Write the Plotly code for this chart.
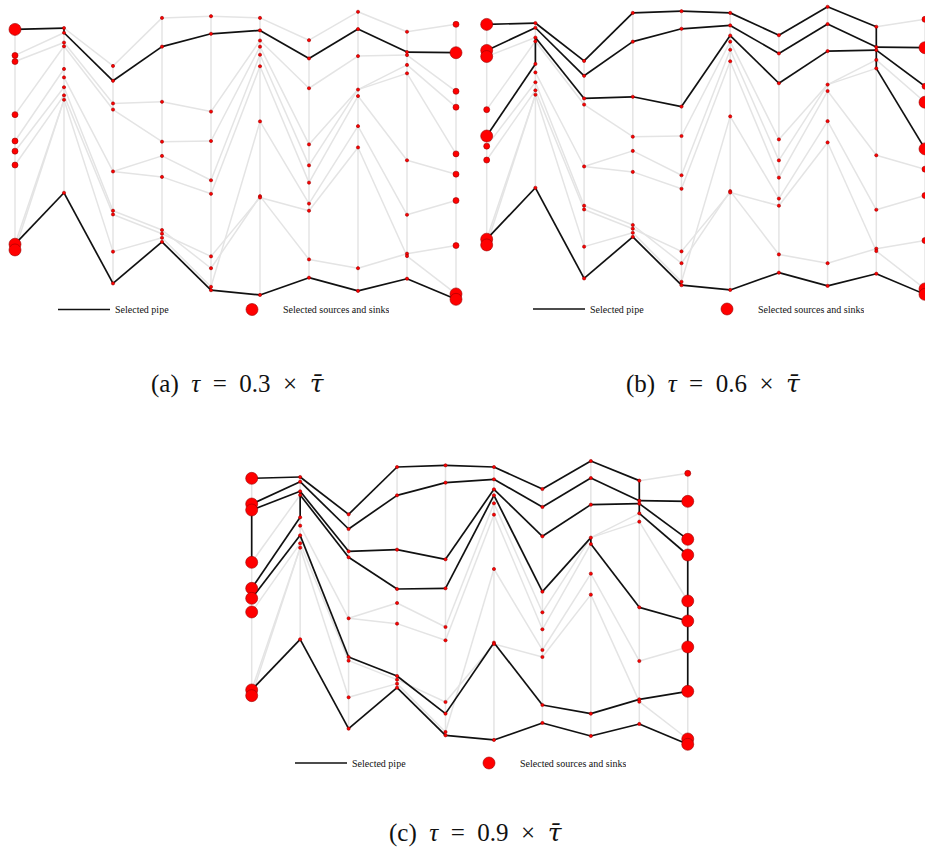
import plotly.graph_objects as go

# ---------------- data: node vertical positions per column (0 = top) ----------------
col0 = [70, 147, 165, 322, 400, 430, 471, 705, 722]
col1 = [66, 80, 109, 120, 187, 212, 241, 265, 278, 553]
col2 = [178, 222, 289, 307, 490, 606, 617, 727, 821]
col3 = [36, 121, 284, 402, 444, 506, 663, 674, 686, 698]
col4 = [31, 83, 313, 400, 516, 556, 741, 776, 831, 841]
col5 = [36, 73, 103, 121, 145, 179, 342, 563, 567, 855]
col6 = [102, 156, 244, 410, 472, 523, 585, 606, 750, 804]
col7 = [18, 69, 149, 248, 267, 356, 419, 776, 843]
col8 = [77, 137, 146, 175, 200, 457, 618, 733, 740, 807]
col9 = [55, 139, 253, 300, 438, 498, 576, 709, 852, 868]

# pipes between neighbouring columns
pipes = ("A0-B0 A1-B1 A2-B2 A3-B3 A4-B4 A5-B6 A6-B7 A7-B9 A7-B8 A8-B8 "
         "B0-C0 B1-C1 B2-C2 B3-C3 B5-C4 B6-C5 B7-C6 B8-C7 B9-C8 "
         "C0-D0 C1-D1 C2-D2 C3-D3 C4-D4 C4-D5 C5-D6 C6-D7 C7-D8 C8-D9 "
         "D0-E0 D1-E1 D2-E2 D3-E3 D4-E4 D5-E5 D6-E7 D7-E6 D8-E8 D9-E9 "
         "E0-F0 E1-F1 E2-F2 E3-F3 E4-F4 E5-F5 E6-F8 E7-F7 E8-F6 E9-F9 "
         "F0-G0 F1-G1 F2-G2 F3-G3 F4-G4 F5-G5 F6-G6 F7-G8 F8-G7 F9-G9 "
         "G0-H0 G1-H1 G2-H2 G3-H3 G4-H3 G5-H4 G6-H5 G7-H6 G8-H7 G9-H8 "
         "H0-I0 H1-I1 H2-I2 H3-I3 H3-I4 H4-I5 H5-I6 H6-I8 H7-I7 H8-I9 "
         "I0-J0 I1-J1 I2-J2 I3-J3 I4-J4 I5-J5 I6-J6 I7-J7 I8-J8 I9-J9").split()

# selected pipes for each tau
sel_a = ("A0-B0 B0-B1 B1-C1 C1-D1 D1-E1 E1-F1 F1-G1 G1-H1 H1-I1 I1-J1 "
         "A7-B9 B9-C8 C8-D9 D9-E9 E9-F9 F9-G9 G9-H8 H8-I9 I9-J9").split()
sel_b = ("A0-B0 B0-C0 C0-D0 D0-E0 E0-F0 F0-G0 G0-H0 H0-I0 I0-I1 I1-J1 "
         "A1-B1 B1-C1 C1-D1 D1-E1 E1-F1 F1-G1 G1-H1 H1-I1 "
         "A4-B4 B3-B4 B2-B3 B2-C2 C2-D2 D2-E2 E2-F2 F2-G2 G2-H2 H2-I2 "
         "I1-I2 I2-I3 I3-I4 I2-J2 I4-J4 "
         "A7-B9 B9-C8 C8-D9 D9-E9 E9-F9 F9-G9 G9-H8 H8-I9 I9-J9").split()
sel_c = ("A0-B0 B0-C0 C0-D0 D0-E0 E0-F0 F0-G0 G0-H0 H0-I0 I0-I1 I1-J1 "
         "A1-B1 B1-C1 C1-D1 D1-E1 E1-F1 F1-G1 G1-H1 H1-I1 "
         "I1-I2 I2-J2 I2-I3 I3-J3 "
         "A2-B2 B2-C2 C2-D2 D2-E2 E2-F2 F2-G2 G2-H2 H2-I2 "
         "B2-B3 B3-C3 C3-D3 D3-E3 E3-F3 F3-G3 G3-H3 H3-H4 H4-I5 I5-J5 "
         "B3-B4 A4-B4 A2-A3 "
         "A5-B6 B6-C5 C5-D6 D6-E7 E7-F7 F7-G8 G8-H7 H7-I7 I7-J7 "
         "J3-J4 J4-J5 J5-J6 J6-J7 "
         "A7-B9 B9-C8 C8-D9 D9-E9 E9-F9 F9-G9 G9-H8 H8-I9 I9-J9").split()

# selected sources and sinks
src_a = "A0 A7 A8 J1 J8 J9".split()
src_b = "A0 A1 A2 A4 A7 A8 J1 J3 J4 J8 J9".split()
src_c = "A0 A1 A2 A3 A4 A5 A6 A7 A8 J1 J2 J3 J4 J5 J6 J7 J8 J9".split()

TAU_BAR = "<span style='font-family:DejaVu Serif'><i>τ̄</i></span>"
captions = ["(a)  <i>τ</i>  =  0.3  ×  " + TAU_BAR,
            "(b)  <i>τ</i>  =  0.6  ×  " + TAU_BAR,
            "(c)  <i>τ</i>  =  0.9  ×  " + TAU_BAR]

# ---------------- helpers ----------------
cols = [col0, col1, col2, col3, col4, col5, col6, col7, col8, col9]
letters = "ABCDEFGHIJ"


def pos(nid):
    c = letters.index(nid[0])
    return c, cols[c][int(nid[1:])]


vertical = [f"{letters[c]}{i}-{letters[c]}{i+1}"
            for c in range(len(cols)) for i in range(len(cols[c]) - 1)]
all_pipes = pipes + vertical


def seg_xy(edges):
    xs, ys = [], []
    for e in edges:
        a, b = e.split("-")
        xa, ya = pos(a)
        xb, yb = pos(b)
        xs += [xa, xb, None]
        ys += [ya, yb, None]
    return xs, ys


W, H = 925, 850
panels = [
    dict(sel=sel_a, src=src_a, x0=15.0, dx=49.0, y0=5.7, ky=0.3383, xr=[-0.3, 9.4],
         leg_x=53, leg_y=309.5, cap_x=238, cap_y=383),
    dict(sel=sel_b, src=src_b, x0=486.7, dx=48.7, y0=0.7, ky=0.3383, xr=[-0.4, 9.0],
         leg_x=528, leg_y=309, cap_x=713, cap_y=383),
    dict(sel=sel_c, src=src_c, x0=251.7, dx=48.45, y0=455.0, ky=0.3333, xr=[-0.4, 9.4],
         leg_x=290, leg_y=763, cap_x=476, cap_y=832),
]

RED = "#ff0000"
DARK = "#9a0000"

fig = go.Figure()
layout = dict(width=W, height=H, margin=dict(l=0, r=0, t=0, b=0),
              plot_bgcolor="white", paper_bgcolor="white", annotations=[])

for k, p in enumerate(panels):
    sfx = "" if k == 0 else str(k + 1)
    xa, ya = "x" + sfx, "y" + sfx
    leg = "legend" + sfx
    sel_set = set(p["sel"])
    gray = [e for e in all_pipes if e not in sel_set]
    gx, gy = seg_xy(gray)
    fig.add_trace(go.Scatter(x=gx, y=gy, mode="lines", xaxis=xa, yaxis=ya,
                             line=dict(color="#e4e4e4", width=1.5),
                             hoverinfo="skip", showlegend=False, cliponaxis=False))
    bx, by = seg_xy(p["sel"])
    fig.add_trace(go.Scatter(x=bx, y=by, mode="lines", xaxis=xa, yaxis=ya,
                             line=dict(color="#111111", width=1.7),
                             name="Selected pipe", legend=leg, showlegend=True,
                             cliponaxis=False))
    # intermediate junctions
    sx, sy = [], []
    for c in range(1, 9):
        for v in cols[c]:
            sx.append(c)
            sy.append(v)
    fig.add_trace(go.Scatter(x=sx, y=sy, mode="markers", xaxis=xa, yaxis=ya,
                             marker=dict(size=3.2, color=RED, line=dict(color=DARK, width=0.6)),
                             showlegend=False, cliponaxis=False))
    # sources / sinks
    mx, my, bxs, bys = [], [], [], []
    for c in (0, 9):
        for i, v in enumerate(cols[c]):
            nid = f"{letters[c]}{i}"
            if nid in p["src"]:
                bxs.append(c)
                bys.append(v)
            else:
                mx.append(c)
                my.append(v)
    fig.add_trace(go.Scatter(x=mx, y=my, mode="markers", xaxis=xa, yaxis=ya,
                             marker=dict(size=6, color=RED, line=dict(color=DARK, width=0.6)),
                             showlegend=False, cliponaxis=False))
    fig.add_trace(go.Scatter(x=bxs, y=bys, mode="markers", xaxis=xa, yaxis=ya,
                             marker=dict(size=12, color=RED, line=dict(color=DARK, width=0.6)),
                             name="Selected sources and sinks", legend=leg, showlegend=True,
                             cliponaxis=False))

    left = max(0.0, p["x0"] + p["xr"][0] * p["dx"])
    right = min(W, p["x0"] + p["xr"][1] * p["dx"])
    top = p["y0"]
    bot = p["y0"] + p["ky"] * 900
    layout["xaxis" + sfx] = dict(domain=[left / W, right / W], range=p["xr"], visible=False,
                                 anchor=ya)
    layout["yaxis" + sfx] = dict(domain=[1 - bot / H, 1 - top / H], range=[900, 0],
                                 visible=False, anchor=xa)
    layout[leg] = dict(orientation="h", x=p["leg_x"] / W, y=1 - p["leg_y"] / H,
                       xanchor="left", yanchor="middle", bgcolor="rgba(0,0,0,0)",
                       font=dict(family="Liberation Serif", size=10, color="#111"),
                       entrywidth=101, entrywidthmode="pixels", itemwidth=52)
    layout["annotations"].append(dict(text=captions[k], x=p["cap_x"] / W, y=1 - p["cap_y"] / H,
                                      xref="paper", yref="paper", showarrow=False,
                                      xanchor="center", yanchor="middle",
                                      font=dict(family="Liberation Serif", size=25, color="#111")))

fig.update_layout(**layout)
fig.write_html("out.html")
